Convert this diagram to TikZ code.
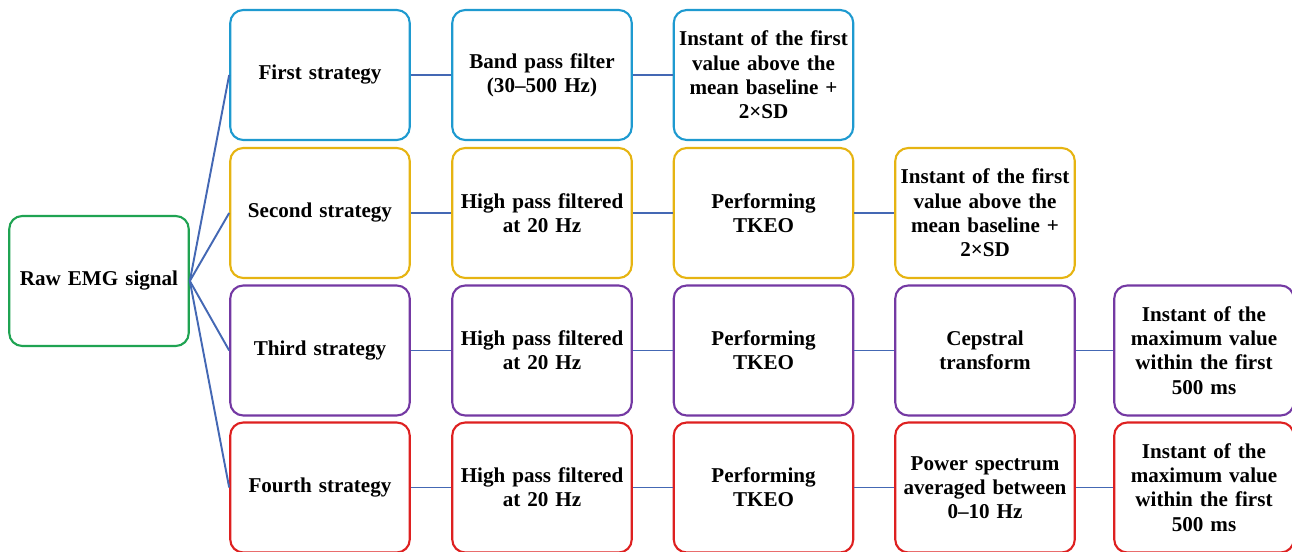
\documentclass[tikz,border=0pt]{standalone}
\usepackage{fontspec}
\setmainfont{Liberation Serif}
\definecolor{boxgreen}{HTML}{1FA352}
\definecolor{boxblue}{HTML}{1E9AD0}
\definecolor{boxgold}{HTML}{E6B412}
\definecolor{boxpurple}{HTML}{7439A3}
\definecolor{boxred}{HTML}{DE2020}
\definecolor{wire}{HTML}{4468B4}
\tikzset{
	block/.style={shape=rectangle, draw, rounded corners=0.26cm, line width=1.2pt, fill=white, minimum width=3.56cm, minimum height=2.6cm, text width=3.45cm, align=center, inner sep=2pt, font=\fontsize{12}{13.8}\selectfont\bfseries},
	wire/.style={draw=wire, line width=1.1pt}
}
\begin{document}
\begin{tikzpicture}
	\useasboundingbox (0, 0) rectangle (25.84, 11.04);
	% Paths, nodes and wires:
	\node[block, draw=boxgreen] (raw) at (1.98, 5.42){Raw EMG signal};
	% first row
	\node[block, draw=boxblue] (s1) at (6.4, 9.54){First strategy};
	\node[block, draw=boxblue] (s1a) at (10.84, 9.54){Band pass filter\\(30–500 Hz)};
	\node[block, draw=boxblue] (s1b) at (15.27, 9.54){Instant of the first\\value above the\\mean baseline +\\2×SD};
	% second row
	\node[block, draw=boxgold] (s2) at (6.4, 6.78){Second strategy};
	\node[block, draw=boxgold] (s2a) at (10.84, 6.78){High pass filtered\\at 20 Hz};
	\node[block, draw=boxgold] (s2b) at (15.27, 6.78){Performing\\TKEO};
	\node[block, draw=boxgold] (s2c) at (19.7, 6.78){Instant of the first\\value above the\\mean baseline +\\2×SD};
	% third row
	\node[block, draw=boxpurple] (s3) at (6.4, 4.03){Third strategy};
	\node[block, draw=boxpurple] (s3a) at (10.84, 4.03){High pass filtered\\at 20 Hz};
	\node[block, draw=boxpurple] (s3b) at (15.27, 4.03){Performing\\TKEO};
	\node[block, draw=boxpurple] (s3c) at (19.7, 4.03){Cepstral\\transform};
	\node[block, draw=boxpurple] (s3d) at (24.08, 4.03){Instant of the\\maximum value\\within the first\\500 ms};
	% fourth row
	\node[block, draw=boxred] (s4) at (6.4, 1.29){Fourth strategy};
	\node[block, draw=boxred] (s4a) at (10.84, 1.29){High pass filtered\\at 20 Hz};
	\node[block, draw=boxred] (s4b) at (15.27, 1.29){Performing\\TKEO};
	\node[block, draw=boxred] (s4c) at (19.7, 1.29){Power spectrum\\averaged between\\0–10 Hz};
	\node[block, draw=boxred] (s4d) at (24.08, 1.29){Instant of the\\maximum value\\within the first\\500 ms};
	% wires
	\foreach \s in {s1, s2, s3, s4}
		\draw[wire] (raw.east) -- (\s.west);
	\draw[wire] (s1) -- (s1a) (s1a) -- (s1b);
	\draw[wire] (s2) -- (s2a) (s2a) -- (s2b) (s2b) -- (s2c);
	\draw[wire] (s3) -- (s3a) (s3a) -- (s3b) (s3b) -- (s3c) (s3c) -- (s3d);
	\draw[wire] (s4) -- (s4a) (s4a) -- (s4b) (s4b) -- (s4c) (s4c) -- (s4d);
\end{tikzpicture}
\end{document}
